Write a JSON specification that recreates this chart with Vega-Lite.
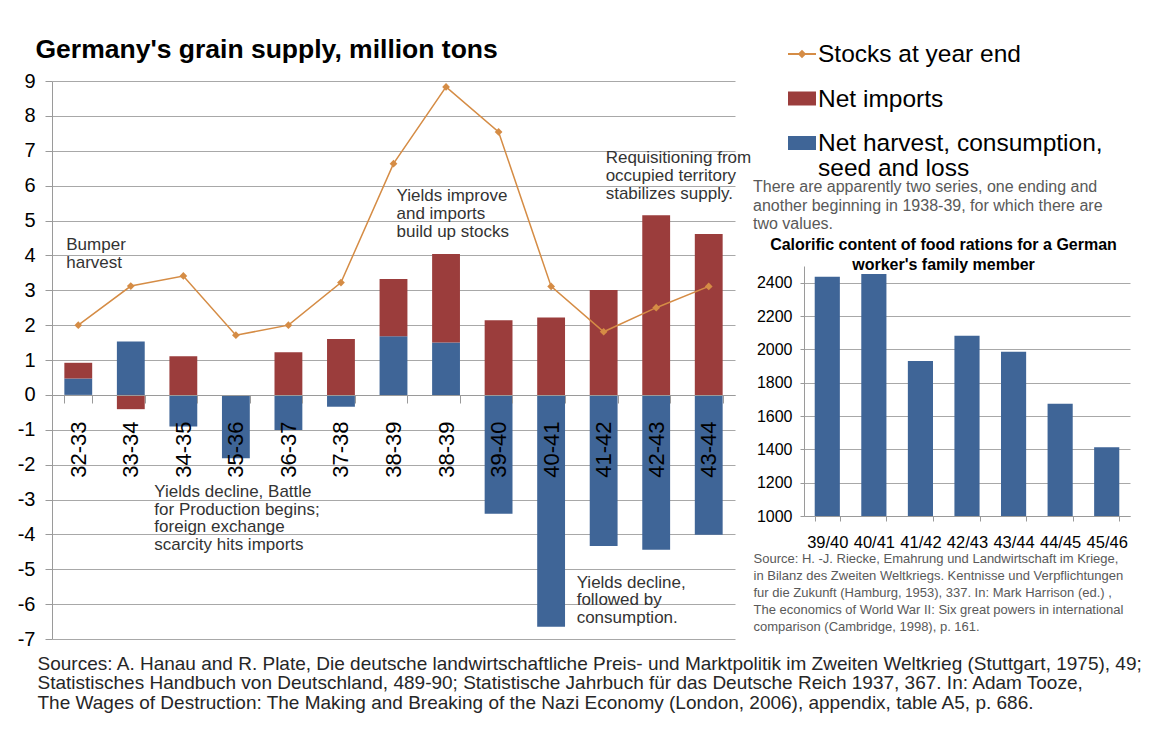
{
  "$schema": "https://vega.github.io/schema/vega-lite/v6.json",
  "background": "white",
  "padding": {"left": 17, "top": 36, "right": 5, "bottom": 5},
  "bounds": "flush",
  "spacing": 69,
  "datasets": {
    "grain": [
      {"period": "32-33", "series": "Net harvest, consumption, seed and loss", "value": 0.47},
      {"period": "32-33", "series": "Net imports", "value": 0.45},
      {"period": "33-34", "series": "Net harvest, consumption, seed and loss", "value": 1.53},
      {"period": "33-34", "series": "Net imports", "value": -0.41},
      {"period": "34-35", "series": "Net harvest, consumption, seed and loss", "value": -0.91},
      {"period": "34-35", "series": "Net imports", "value": 1.11},
      {"period": "35-36", "series": "Net harvest, consumption, seed and loss", "value": -1.82},
      {"period": "35-36", "series": "Net imports", "value": 0},
      {"period": "36-37", "series": "Net harvest, consumption, seed and loss", "value": -1.01},
      {"period": "36-37", "series": "Net imports", "value": 1.22},
      {"period": "37-38", "series": "Net harvest, consumption, seed and loss", "value": -0.34},
      {"period": "37-38", "series": "Net imports", "value": 1.6},
      {"period": "38-39a", "series": "Net harvest, consumption, seed and loss", "value": 1.68},
      {"period": "38-39a", "series": "Net imports", "value": 1.64},
      {"period": "38-39b", "series": "Net harvest, consumption, seed and loss", "value": 1.5},
      {"period": "38-39b", "series": "Net imports", "value": 2.54},
      {"period": "39-40", "series": "Net harvest, consumption, seed and loss", "value": -3.41},
      {"period": "39-40", "series": "Net imports", "value": 2.14},
      {"period": "40-41", "series": "Net harvest, consumption, seed and loss", "value": -6.65},
      {"period": "40-41", "series": "Net imports", "value": 2.22},
      {"period": "41-42", "series": "Net harvest, consumption, seed and loss", "value": -4.33},
      {"period": "41-42", "series": "Net imports", "value": 3.01},
      {"period": "42-43", "series": "Net harvest, consumption, seed and loss", "value": -4.44},
      {"period": "42-43", "series": "Net imports", "value": 5.15},
      {"period": "43-44", "series": "Net harvest, consumption, seed and loss", "value": -4.01},
      {"period": "43-44", "series": "Net imports", "value": 4.61}
    ],
    "stocks": [
      {"period": "32-33", "stocks": 2.0},
      {"period": "33-34", "stocks": 3.12},
      {"period": "34-35", "stocks": 3.41},
      {"period": "35-36", "stocks": 1.71},
      {"period": "36-37", "stocks": 2.0},
      {"period": "37-38", "stocks": 3.22},
      {"period": "38-39a", "stocks": 6.63},
      {"period": "38-39b", "stocks": 8.83},
      {"period": "39-40", "stocks": 7.54},
      {"period": "40-41", "stocks": 3.11},
      {"period": "41-42", "stocks": 1.81},
      {"period": "42-43", "stocks": 2.5},
      {"period": "43-44", "stocks": 3.11}
    ],
    "calories": [
      {"year": "39/40", "kcal": 2436},
      {"year": "40/41", "kcal": 2452},
      {"year": "41/42", "kcal": 1930},
      {"year": "42/43", "kcal": 2082},
      {"year": "43/44", "kcal": 1986},
      {"year": "44/45", "kcal": 1674},
      {"year": "45/46", "kcal": 1412}
    ]
  },
  "hconcat": [
    {
      "width": 683,
      "height": 558,
      "layer": [
        {
          "data": {"name": "grain"},
          "mark": {"type": "bar"},
          "encoding": {
            "x": {
              "field": "period", "type": "nominal", "sort": null,
              "scale": {"domain": ["32-33","33-34","34-35","35-36","36-37","37-38","38-39a","38-39b","39-40","40-41","41-42","42-43","43-44"], "paddingInner": 0.47, "paddingOuter": 0.235},
              "axis": {
                "orient": "bottom", "offset": -244, "zindex": 1, "labelAngle": -90, "labelAlign": "right", "labelBaseline": "middle",
                "labelFontSize": 22, "labelPadding": 18, "tickSize": 8, "tickBand": "extent", "labelOverlap": false,
                "labelExpr": "substring(datum.label, 0, 5)",
                "title": [
                  "Sources: A. Hanau and R. Plate, Die deutsche landwirtschaftliche Preis- und Marktpolitik im Zweiten Weltkrieg  (Stuttgart, 1975), 49;",
                  "Statistisches Handbuch von Deutschland, 489-90; Statistische Jahrbuch für das Deutsche Reich 1937, 367. In: Adam Tooze,",
                  "The Wages of Destruction: The Making  and Breaking of the Nazi Economy (London, 2006), appendix, table A5, p. 686."
                ],
                "titleX": -15, "titleY": 274, "titleAlign": "left", "titleAnchor": "start", "titleBaseline": "alphabetic",
                "titleFontSize": 19, "titleFontWeight": "normal", "titleLineHeight": 19.5, "titleColor": "#262626", "titleLimit": 3000
              }
            },
            "y": {
              "field": "value", "type": "quantitative", "stack": "zero",
              "scale": {"domain": [-7, 9], "nice": false},
              "axis": {
                "values": [-7,-6,-5,-4,-3,-2,-1,0,1,2,3,4,5,6,7,8,9], "tickCount": 20,
                "labelFontSize": 20, "labelPadding": 10, "tickSize": 7, "grid": true, "labelOverlap": false,
                "format": "d",
                "labelExpr": "replace(datum.label, '\u2212', '-')",
                "title": "Germany's grain supply, million tons",
                "titleAngle": 0, "titleX": -17, "titleY": -24, "titleAlign": "left", "titleBaseline": "alphabetic",
                "titleFontSize": 26.5, "titleFontWeight": "bold", "titleColor": "#000000", "titleLimit": 2000
              }
            },
            "color": {
              "field": "series", "type": "nominal",
              "scale": {"domain": ["Stocks at year end", "Net imports", "Net harvest, consumption, seed and loss"], "range": ["#d58c45", "#9b3d3c", "#3f6597"]},
              "legend": {
                "title": null, "orient": "none", "legendX": 736, "legendY": -41, "direction": "vertical",
                "padding": 0, "labelFontSize": 24.5, "labelColor": "#000000", "labelBaseline": "alphabetic",
                "labelOffset": 2, "labelLimit": 0, "rowPadding": 17.5, "symbolSize": 784,
                "labelExpr": "datum.label == 'Net harvest, consumption, seed and loss' ? ['Net harvest, consumption,', 'seed and loss'] : datum.label",
                "encode": {
                  "labels": {"update": {"dy": {"value": 8}, "lineHeight": {"value": 24.5}}},
                  "symbols": {"update": {
                    "shape": {"signal": "datum.value == 'Stocks at year end' ? 'M-1,-0.07L1,-0.07L1,0.07L-1,0.07Z M0,-0.3L0.3,0L0,0.3L-0.3,0Z' : 'M-1,-0.5L1,-0.5L1,0.5L-1,0.5Z'"},
                    "fill": {"signal": "datum.value == 'Stocks at year end' ? '#d58c45' : datum.value == 'Net imports' ? '#9b3d3c' : '#3f6597'"},
                    "strokeWidth": {"value": 0}, "opacity": {"value": 1}, "fillOpacity": {"value": 1}
                  }}
                }
              }
            },
            "order": {"field": "series", "sort": "ascending"}
          }
        },
        {
          "data": {"name": "stocks"},
          "mark": {"type": "line", "strokeWidth": 1.5, "point": {"shape": "diamond", "size": 60, "filled": true}},
          "encoding": {
            "x": {"field": "period", "type": "nominal", "sort": null},
            "y": {"field": "stocks", "type": "quantitative"},
            "color": {"datum": "Stocks at year end"}
          }
        },
        {
          "data": {"values": [{}]},
          "mark": {"type": "text", "text": ["Bumper", "harvest"], "align": "left", "baseline": "alphabetic", "dx": -12, "fontSize": 17, "lineHeight": 18, "color": "#333333"},
          "encoding": {"x": {"datum": "32-33", "type": "nominal"}, "y": {"datum": 4.16, "type": "quantitative"}}
        },
        {
          "data": {"values": [{}]},
          "mark": {"type": "text", "text": ["Yields improve", "and imports", "build up stocks"], "align": "left", "baseline": "alphabetic", "dx": 3, "fontSize": 17, "lineHeight": 18, "color": "#333333"},
          "encoding": {"x": {"datum": "38-39a", "type": "nominal"}, "y": {"datum": 5.56, "type": "quantitative"}}
        },
        {
          "data": {"values": [{}]},
          "mark": {"type": "text", "text": ["Requisitioning from", "occupied territory", "stabilizes supply."], "align": "left", "baseline": "alphabetic", "dx": 2, "fontSize": 17, "lineHeight": 18, "color": "#333333"},
          "encoding": {"x": {"datum": "41-42", "type": "nominal"}, "y": {"datum": 6.66, "type": "quantitative"}}
        },
        {
          "data": {"values": [{}]},
          "mark": {"type": "text", "text": ["Yields decline, Battle", "for  Production begins;", "foreign exchange", "scarcity hits imports"], "align": "left", "baseline": "alphabetic", "dx": -29, "fontSize": 17, "lineHeight": 17.5, "color": "#333333"},
          "encoding": {"x": {"datum": "34-35", "type": "nominal"}, "y": {"datum": -2.94, "type": "quantitative"}}
        },
        {
          "data": {"values": [{}]},
          "mark": {"type": "text", "text": ["Yields decline,", "followed by", "consumption."], "align": "left", "baseline": "alphabetic", "dx": -27, "fontSize": 17, "lineHeight": 17.5, "color": "#333333"},
          "encoding": {"x": {"datum": "41-42", "type": "nominal"}, "y": {"datum": -5.53, "type": "quantitative"}}
        }
      ]
    },
    {
      "bounds": "flush",
      "spacing": 184,
      "vconcat": [
        {
          "width": 326, "height": 1,
          "data": {"values": []},
          "mark": "point",
          "encoding": {}
        },
        {
          "width": 326, "height": 250,
          "data": {"name": "calories"},
          "title": {
            "text": ["There are apparently two series, one ending and", "another beginning in 1938-39, for which there are", "two values."],
            "anchor": "start", "frame": "bounds", "fontSize": 16, "fontWeight": "normal", "color": "#595959", "lineHeight": 18.5, "offset": 4, "limit": 0
          },
          "mark": {"type": "bar", "color": "#3f6597"},
          "encoding": {
            "x": {
              "field": "year", "type": "nominal", "sort": null,
              "scale": {"paddingInner": 0.46, "paddingOuter": 0.23},
              "axis": {
                "labelAngle": 0, "labelFontSize": 16.5, "labelPadding": 13, "tickSize": 5, "tickBand": "extent", "labelOverlap": false,
                "title": [
                  "Source: H. -J. Riecke, Emahrung und Landwirtschaft im Kriege,",
                  "in Bilanz des Zweiten Weltkriegs. Kentnisse und Verpflichtungen",
                  "fur die Zukunft (Hamburg, 1953), 337. In: Mark Harrison (ed.) ,",
                  "The economics of World War II: Six great powers in international",
                  "comparison (Cambridge, 1998), p. 161."
                ],
                "titleX": -51, "titleY": 46, "titleAlign": "left", "titleAnchor": "start", "titleBaseline": "alphabetic",
                "titleFontSize": 13, "titleFontWeight": "normal", "titleColor": "#595959", "titleLineHeight": 17, "titleLimit": 2000
              }
            },
            "y": {
              "field": "kcal", "type": "quantitative",
              "scale": {"domain": [1000, 2500], "nice": false, "zero": false},
              "axis": {
                "values": [1000, 1200, 1400, 1600, 1800, 2000, 2200, 2400], "format": "d", "tickCount": 10,
                "labelFontSize": 16, "labelPadding": 8, "tickSize": 4, "grid": true, "labelOverlap": false,
                "title": ["Calorific content of food rations for a German", "worker's family member"],
                "titleAngle": 0, "titleX": 139, "titleY": -16.7, "titleAlign": "center", "titleBaseline": "alphabetic",
                "titleFontSize": 16, "titleFontWeight": "bold", "titleLineHeight": 20, "titleColor": "#000000", "titleLimit": 2000
              }
            },
            "y2": {"datum": 1000}
          }
        }
      ]
    }
  ],
  "config": {
    "font": "Liberation Sans",
    "view": {"stroke": null},
    "axis": {
      "labelFont": "Liberation Sans", "titleFont": "Liberation Sans", "labelColor": "#000000",
      "domainColor": "#9a9a9a", "tickColor": "#9a9a9a", "gridColor": "#a8a8a8",
      "domainWidth": 1, "tickWidth": 1, "gridWidth": 1, "labelOverlap": false
    },
    "title": {"font": "Liberation Sans"},
    "legend": {"labelFont": "Liberation Sans"}
  }
}
